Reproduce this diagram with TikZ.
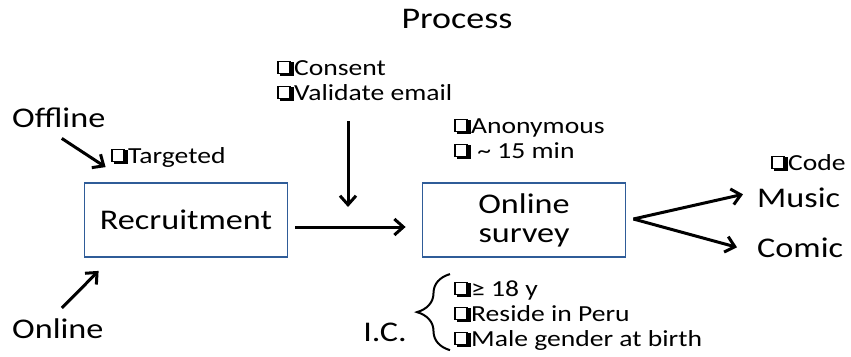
\documentclass[tikz,border=0pt]{standalone}
\usepackage{fontspec}
\setmainfont{Carlito}[FakeStretch=1.2]
\usepackage{tikz}
\usetikzlibrary{calc, positioning, arrows.meta, decorations.pathreplacing}
\definecolor{bblue}{RGB}{47,92,152}
\newcommand\bigtxt{\fontsize{28.5}{29}\selectfont}
\newcommand\smalltxt{\fontsize{23}{25}\selectfont}
\newcommand\chkbox{{\fboxsep=0pt\fboxrule=1.4pt\raisebox{2.2pt}{\makebox[17pt][l]{\rlap{\hspace{3pt}\raisebox{-3pt}{\rule{13.6pt}{13.6pt}}}\fcolorbox{black}{white}{\rule{0pt}{10.8pt}\hspace{10.8pt}}}}}}

\begin{document}
\begin{tikzpicture}[x=1pt, y=-1pt,
	lbl/.style={inner sep=0pt, font=\bigtxt},
	note/.style={inner sep=0pt, font=\smalltxt, align=left},
	procbox/.style={draw=bblue, line width=1.8pt, minimum width=203pt, minimum height=74pt, inner sep=0pt, align=center, font=\bigtxt},
	arr/.style={line width=3pt, -{Straight Barb[length=9pt, width=16pt]}},
	crbrace/.style={line width=2pt, decorate, decoration={brace, amplitude=33pt}}]
	\useasboundingbox (0,0) rectangle (851,356);
	\node[lbl, anchor=base, font=\fontsize{30}{30}\selectfont] (proc) at (457,28) {Process};
	\node[procbox] (recr) at (186,220) {Recruitment};
	\node[procbox] (surv) at (524,220) {};
	\node[lbl, anchor=base, align=center] (survtxt) at (524,242) {Online\\survey};
	\node[lbl, anchor=base west] (offline) at (12,127) {Offline};
	\node[lbl, anchor=base west] (online) at (12,338) {Online};
	\node[note, anchor=base west] (targ) at (111,163) {\chkbox Targeted};
	\node[note, anchor=base west] (cons) at (277,100) {\chkbox Consent\\\chkbox Validate email};
	\node[note, anchor=base west] (anon) at (454,158) {\chkbox Anonymous\\\chkbox\ \textasciitilde{} 15 min};
	\node[note, anchor=base west] (code) at (771,170) {\chkbox Code};
	\node[lbl, anchor=base west] (music) at (757,207) {Music};
	\node[lbl, anchor=base west] (comic) at (757,257) {Comic};
	\node[lbl, anchor=base east] (ic) at (407,341) {I.C.};
	\node[note, anchor=base west] (crit) at (454,346) {\chkbox≥ 18 y\\\chkbox Reside in Peru\\\chkbox Male gender at birth};
	\coordinate (offtip) at ($(recr.north west)+(22,-15)$);
	\coordinate (ontip) at ($(recr.south west)+(15,13)$);
	\coordinate (join) at (348,227);
	\coordinate (fork) at ($(surv.east)+(7,-1)$);
	\coordinate (mustip) at ($(music.west)+(-14,-3)$);
	\coordinate (comtip) at ($(comic.west)+(-20,0)$);
	\draw[arr] ($(offline.south)+(3,11)$) -- (offtip);
	\draw[arr] ($(online.north)+(4,-10)$) -- (ontip);
	\draw[arr, shorten <=7pt, shorten >=16pt] ($(recr.east)+(0,7)$) -- ($(surv.west)+(0,7)$);
	\draw[arr] ([yshift=-20pt]cons.south -| join) -- ([yshift=20pt]join);
	\draw[arr] (fork) -- (mustip);
	\draw[arr] (fork) -- (comtip);
	\draw[crbrace] ($(crit.south west)+(-4,0)$) -- ($(crit.north west)+(-4,-6)$);
\end{tikzpicture}
\end{document}
